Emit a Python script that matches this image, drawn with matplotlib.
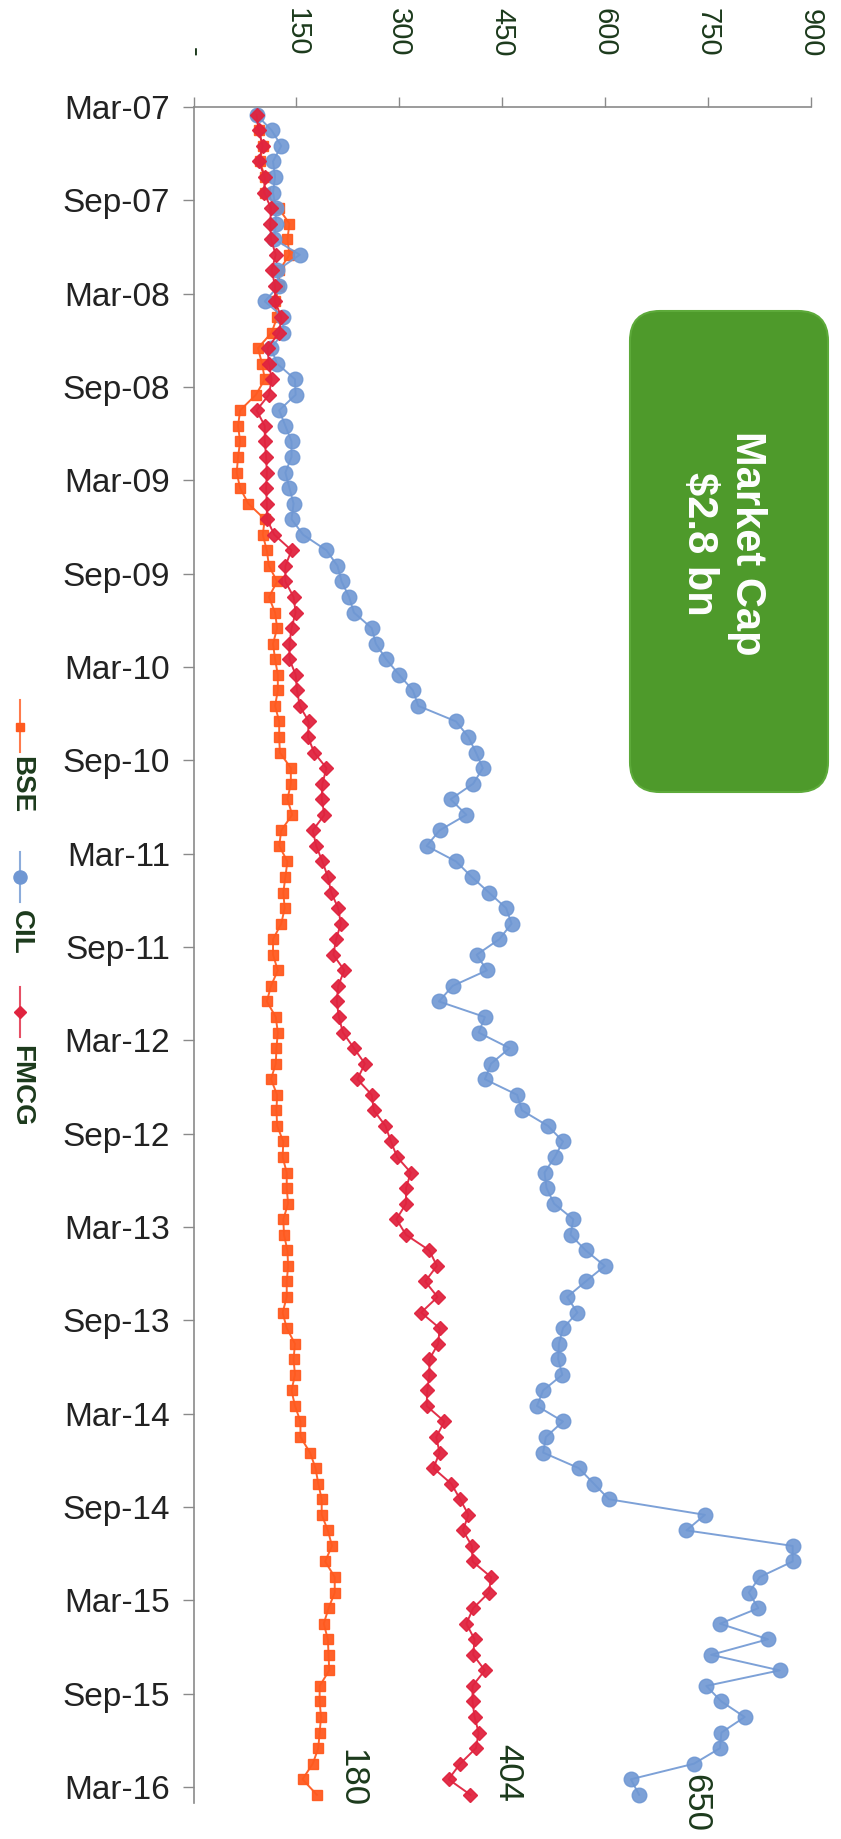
import matplotlib
matplotlib.use("Agg")
import matplotlib.pyplot as plt
import numpy as np
from matplotlib.patches import FancyBboxPatch
from matplotlib.lines import Line2D
from matplotlib.transforms import IdentityTransform

plt.rcParams['font.family'] = ['Liberation Sans', 'DejaVu Sans']

# ---------------- data (monthly, Mar-07 .. Mar-16) ----------------
series_names = ["BSE", "CIL", "FMCG"]

bse = [92, 95, 101, 97, 104, 104, 124, 140, 137, 140, 125, 125, 119, 122, 114, 94,
       100, 104, 91, 68, 65, 68, 65, 63, 68, 80, 104, 101, 107, 110, 122, 110,
       119, 122, 116, 119, 123, 123, 119, 125, 125, 126, 142, 142, 137, 144, 128, 125,
       137, 134, 131, 133, 128, 116, 116, 123, 113, 107, 120, 123, 121, 120, 113, 122,
       121, 122, 131, 130, 136, 136, 138, 131, 132, 137, 138, 136, 136, 130, 136, 148,
       146, 148, 143, 148, 156, 156, 170, 178, 182, 187, 187, 196, 202, 192, 206, 206,
       197, 190, 196, 197, 198, 184, 184, 186, 184, 182, 174, 159, 180]

cil = [92, 114, 128, 116, 119, 116, 120, 120, 118, 155, 122, 124, 104, 131, 131, 113,
       122, 148, 149, 125, 134, 143, 143, 134, 140, 146, 143, 160, 194, 210, 216, 227,
       234, 260, 266, 281, 300, 320, 328, 383, 401, 412, 422, 408, 375, 398, 359, 340,
       383, 406, 431, 456, 464, 446, 413, 428, 378, 358, 425, 416, 461, 434, 425, 472,
       479, 517, 539, 527, 512, 515, 526, 554, 550, 572, 600, 572, 545, 560, 539, 533,
       532, 538, 510, 501, 539, 514, 510, 562, 584, 606, 746, 719, 874, 874, 826, 810,
       824, 768, 838, 755, 855, 748, 770, 804, 770, 768, 730, 638, 650]

fmcg = [92, 95, 101, 95, 104, 103, 113, 112, 113, 120, 114, 119, 119, 128, 125, 108,
        110, 114, 110, 92, 104, 104, 106, 107, 106, 107, 107, 118, 143, 134, 134, 146,
        149, 143, 140, 140, 149, 151, 155, 168, 167, 176, 194, 188, 187, 191, 174, 179,
        188, 196, 201, 211, 215, 208, 204, 220, 211, 209, 212, 218, 234, 250, 239, 260,
        263, 280, 288, 297, 317, 310, 310, 296, 310, 344, 355, 338, 356, 332, 359, 357,
        344, 344, 341, 340, 366, 354, 359, 350, 376, 389, 401, 393, 406, 407, 434, 431,
        408, 398, 410, 408, 425, 407, 407, 410, 416, 412, 389, 372, 404]

date_labels = ["Mar-07", "Sep-07", "Mar-08", "Sep-08", "Mar-09", "Sep-09", "Mar-10",
               "Sep-10", "Mar-11", "Sep-11", "Mar-12", "Sep-12", "Mar-13", "Sep-13",
               "Mar-14", "Sep-14", "Mar-15", "Sep-15", "Mar-16"]
value_ticks = [0, 150, 300, 450, 600, 750, 900]
value_tick_labels = ["-", "150", "300", "450", "600", "750", "900"]
end_labels = ["180", "650", "404"]
box_text = "Market Cap\n$2.8 bn"

# ---------------- styles ----------------
colors = {"BSE": "#FF5A1F", "CIL": "#6F97D3", "FMCG": "#E0243F"}
markers = {"BSE": "s", "CIL": "o", "FMCG": "D"}
msizes = {"BSE": 7.0, "CIL": 10.5, "FMCG": 7.0}
label_offsets = {"BSE": (13, 12), "CIL": (29, -6), "FMCG": (15, 16)}  # points
dark_green = "#1C3A1C"

W, H, DPI = 841, 1839, 100
fig = plt.figure(figsize=(W / DPI, H / DPI), dpi=DPI)
fig.patch.set_facecolor("white")

ax_left, ax_right, ax_top, ax_bot = 193.5, 810.5, 107, 1802.6
ax = fig.add_axes([ax_left / W, 1 - ax_bot / H, (ax_right - ax_left) / W, (ax_bot - ax_top) / H])

n = len(bse)
ypos = np.arange(n) + 0.5  # category centres (between tick marks)

data = {"BSE": bse, "CIL": cil, "FMCG": fmcg}
for name in series_names:
    ax.plot(data[name], ypos, color=colors[name], lw=1.4, marker=markers[name],
            ms=msizes[name], mec=colors[name], mfc=colors[name], zorder=3,
            alpha=0.95 if name != "CIL" else 0.9)

ax.set_xlim(0, 900)
ax.set_ylim(n, 0)

# value axis on top, rotated labels
ax.xaxis.tick_top()
ax.set_xticks(value_ticks)
ax.set_xticklabels(value_tick_labels)
ax.tick_params(axis="x", which="major", direction="out", length=7, width=1.0,
               color="#8A8A8A", pad=29, labelsize=21, labelcolor=dark_green,
               labelrotation=270)

# date axis on left
ax.set_yticks(np.arange(0, n, 6))
ax.set_yticklabels(date_labels)
ax.tick_params(axis="y", which="major", direction="out", length=8, width=1.0,
               color="#8A8A8A", pad=9, labelsize=24, labelcolor="#222222")

for s in ["right", "bottom"]:
    ax.spines[s].set_visible(False)
for s in ["left", "top"]:
    ax.spines[s].set_color("#8A8A8A")
    ax.spines[s].set_linewidth(1.2)

# end-of-series labels
for name, lab in zip(series_names, end_labels):
    ax.annotate(lab, xy=(data[name][-1], ypos[-1]), xytext=label_offsets[name],
                textcoords="offset points", rotation=270, ha="left", va="center",
                fontsize=25, color=dark_green)

# green "Market Cap" box (pixel coordinates)
bx0, by_top, bx1, by_bot = 630, 311, 828, 792
box = FancyBboxPatch((bx0, H - by_bot), bx1 - bx0, by_bot - by_top,
                     boxstyle="round,pad=0,rounding_size=30",
                     transform=IdentityTransform(), facecolor="#4E9A2B",
                     edgecolor="#5DAA3A", linewidth=1.5, zorder=5)
fig.add_artist(box)
fig.text((bx0 + bx1) / 2 - 6, H - (by_top + by_bot) / 2 + 8, box_text,
         transform=IdentityTransform(), rotation=270, ha="center", va="center",
         multialignment="center", fontsize=30, fontweight="bold", color="white",
         linespacing=1.25, zorder=6)

# rotated legend (pixel coordinates)
legend_layout = {"BSE": (700, 752, 727, 756), "CIL": (852, 902, 877, 910),
                 "FMCG": (987, 1037, 1012, 1045)}
lx = 20
for name in series_names:
    ytop, ybot, ymark, ytext = legend_layout[name]
    fig.add_artist(Line2D([lx, lx], [H - ytop, H - ybot], transform=IdentityTransform(),
                          color=colors[name], lw=1.5, alpha=0.8))
    fig.add_artist(Line2D([lx], [H - ymark], transform=IdentityTransform(),
                          color=colors[name], marker=markers[name],
                          ms=msizes[name] * 0.9, lw=0))
    fig.text(lx + 1, H - ytext, name, transform=IdentityTransform(), rotation=270,
             ha="center", va="top", fontsize=20, fontweight="bold", color=dark_green)

fig.savefig("out.png", dpi=DPI, facecolor="white")
